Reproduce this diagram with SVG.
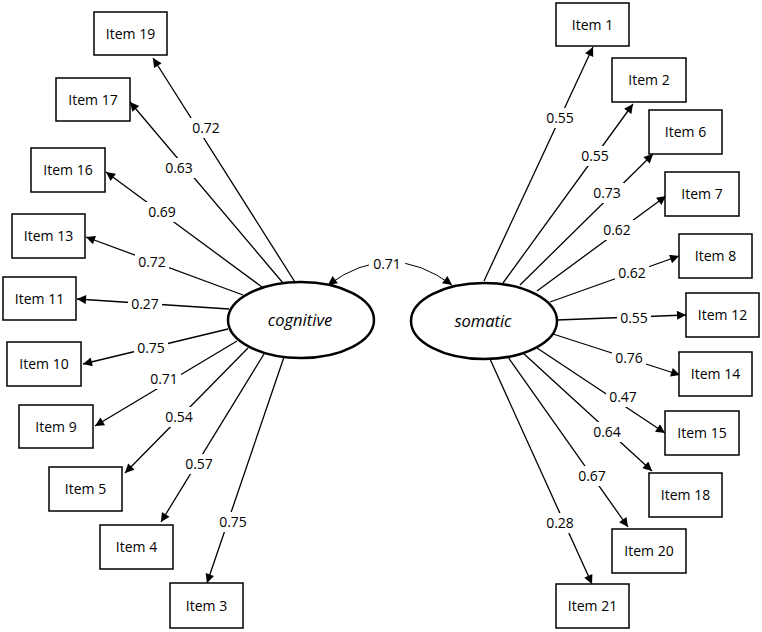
<svg xmlns="http://www.w3.org/2000/svg" width="762" height="632" viewBox="0 0 762 632">
<style>
.box{fill:#fff;stroke:#000;stroke-width:1.5}
.lat{fill:#fff;stroke:#000;stroke-width:2.5}
.t{font-family:"Open Sans","Liberation Sans",sans-serif;font-size:14px;fill:#000;text-anchor:middle}
.lt{font-family:"Open Sans","Liberation Sans",sans-serif;font-size:16.5px;font-style:italic;fill:#000;text-anchor:middle}
.c{stroke:#000;stroke-width:1.3;fill:none;marker-end:url(#ah)}
.bg{fill:#fff;stroke:none}
</style>
<defs>
<marker id="ah" viewBox="0 0 10 10" refX="10" refY="5" markerWidth="11" markerHeight="9" markerUnits="userSpaceOnUse" orient="auto-start-reverse"><path d="M0,0 L10,5 L0,10 z" fill="#000"/></marker>
</defs>
<rect width="762" height="632" fill="#fff"/>
<g id="connectors">
<line class="c" x1="300" y1="290" x2="153" y2="58"/>
<line class="c" x1="283" y1="283" x2="130" y2="102"/>
<line class="c" x1="262" y1="287" x2="106" y2="172"/>
<line class="c" x1="243" y1="295" x2="86" y2="237"/>
<line class="c" x1="229" y1="309" x2="77" y2="299"/>
<line class="c" x1="228" y1="329" x2="83" y2="364"/>
<line class="c" x1="237" y1="341" x2="95" y2="426"/>
<line class="c" x1="248" y1="348" x2="125" y2="473"/>
<line class="c" x1="264" y1="354" x2="161" y2="522"/>
<line class="c" x1="284" y1="357" x2="207" y2="583"/>
<line class="c" x1="484" y1="281" x2="593" y2="47"/>
<line class="c" x1="503" y1="283" x2="633" y2="104"/>
<line class="c" x1="520" y1="285" x2="653" y2="154"/>
<line class="c" x1="537" y1="291" x2="666" y2="196"/>
<line class="c" x1="550" y1="302" x2="679" y2="256"/>
<line class="c" x1="557" y1="320" x2="686" y2="315"/>
<line class="c" x1="553" y1="334" x2="680" y2="375"/>
<line class="c" x1="537" y1="348" x2="665" y2="433"/>
<line class="c" x1="523" y1="353" x2="652" y2="471"/>
<line class="c" x1="508" y1="357" x2="628" y2="527"/>
<line class="c" x1="490" y1="359" x2="592" y2="584"/>
<path class="c" d="M328,285 Q390,239 452,285" style="stroke-width:1;marker-start:url(#ah)"/>
</g>
<g id="labels">
<g><rect class="bg" x="189" y="118" width="34" height="20"/><text class="t" x="206" y="133">0.72</text></g>
<g><rect class="bg" x="162" y="158" width="34" height="20"/><text class="t" x="179" y="173">0.63</text></g>
<g><rect class="bg" x="145" y="202" width="34" height="20"/><text class="t" x="162" y="217">0.69</text></g>
<g><rect class="bg" x="135" y="252" width="34" height="20"/><text class="t" x="152" y="267">0.72</text></g>
<g><rect class="bg" x="128" y="294" width="34" height="20"/><text class="t" x="145" y="309">0.27</text></g>
<g><rect class="bg" x="134" y="338" width="34" height="20"/><text class="t" x="151" y="353">0.75</text></g>
<g><rect class="bg" x="147" y="369" width="34" height="20"/><text class="t" x="164" y="384">0.71</text></g>
<g><rect class="bg" x="162" y="407" width="34" height="20"/><text class="t" x="179" y="422">0.54</text></g>
<g><rect class="bg" x="182" y="454" width="34" height="20"/><text class="t" x="199" y="469">0.57</text></g>
<g><rect class="bg" x="216" y="512" width="34" height="20"/><text class="t" x="233" y="527">0.75</text></g>
<g><rect class="bg" x="543" y="108" width="34" height="20"/><text class="t" x="560" y="123">0.55</text></g>
<g><rect class="bg" x="578" y="146" width="34" height="20"/><text class="t" x="595" y="161">0.55</text></g>
<g><rect class="bg" x="590" y="183" width="34" height="20"/><text class="t" x="607" y="198">0.73</text></g>
<g><rect class="bg" x="600" y="220" width="34" height="20"/><text class="t" x="617" y="235">0.62</text></g>
<g><rect class="bg" x="615" y="263" width="34" height="20"/><text class="t" x="632" y="278">0.62</text></g>
<g><rect class="bg" x="617" y="308" width="34" height="20"/><text class="t" x="634" y="323">0.55</text></g>
<g><rect class="bg" x="612" y="348" width="34" height="20"/><text class="t" x="629" y="363">0.76</text></g>
<g><rect class="bg" x="606" y="387" width="34" height="20"/><text class="t" x="623" y="402">0.47</text></g>
<g><rect class="bg" x="590" y="422" width="34" height="20"/><text class="t" x="607" y="437">0.64</text></g>
<g><rect class="bg" x="575" y="466" width="34" height="20"/><text class="t" x="592" y="481">0.67</text></g>
<g><rect class="bg" x="543" y="513" width="34" height="20"/><text class="t" x="560" y="528">0.28</text></g>
<g><rect class="bg" x="369" y="254" width="36" height="20"/><text class="t" x="387" y="269">0.71</text></g>
</g>
<g id="cognitive"><ellipse class="lat" cx="301" cy="320" rx="73" ry="38"/><text class="lt" x="300" y="326">cognitive</text></g>
<g id="somatic"><ellipse class="lat" cx="484" cy="321" rx="73" ry="38"/><text class="lt" x="483" y="327">somatic</text></g>
<g id="item19"><rect class="box" x="94" y="12" width="73" height="43"/><text class="t" x="130.5" y="38.5">Item 19</text></g>
<g id="item17"><rect class="box" x="56" y="78" width="74" height="43"/><text class="t" x="93" y="104.5">Item 17</text></g>
<g id="item16"><rect class="box" x="31" y="148" width="74" height="44"/><text class="t" x="68" y="175">Item 16</text></g>
<g id="item13"><rect class="box" x="12" y="214" width="73" height="44"/><text class="t" x="48.5" y="241">Item 13</text></g>
<g id="item11"><rect class="box" x="3" y="277" width="73" height="43"/><text class="t" x="39.5" y="303.5">Item 11</text></g>
<g id="item10"><rect class="box" x="7" y="342" width="74" height="44"/><text class="t" x="44" y="369">Item 10</text></g>
<g id="item9"><rect class="box" x="19" y="405" width="74" height="43"/><text class="t" x="56" y="431.5">Item 9</text></g>
<g id="item5"><rect class="box" x="49" y="467" width="73" height="44"/><text class="t" x="85.5" y="494">Item 5</text></g>
<g id="item4"><rect class="box" x="100" y="525" width="73" height="44"/><text class="t" x="136.5" y="552">Item 4</text></g>
<g id="item3"><rect class="box" x="170" y="583" width="73" height="45"/><text class="t" x="206.5" y="610.5">Item 3</text></g>
<g id="item1"><rect class="box" x="556" y="3" width="73" height="43"/><text class="t" x="592.5" y="29.5">Item 1</text></g>
<g id="item2"><rect class="box" x="612" y="58" width="74" height="44"/><text class="t" x="649" y="85">Item 2</text></g>
<g id="item6"><rect class="box" x="649" y="110" width="73" height="44"/><text class="t" x="685.5" y="137">Item 6</text></g>
<g id="item7"><rect class="box" x="665" y="172" width="74" height="44"/><text class="t" x="702" y="199">Item 7</text></g>
<g id="item8"><rect class="box" x="679" y="234" width="73" height="44"/><text class="t" x="715.5" y="261">Item 8</text></g>
<g id="item12"><rect class="box" x="686" y="293" width="73" height="44"/><text class="t" x="722.5" y="320">Item 12</text></g>
<g id="item14"><rect class="box" x="679" y="352" width="73" height="44"/><text class="t" x="715.5" y="379">Item 14</text></g>
<g id="item15"><rect class="box" x="665" y="411" width="74" height="44"/><text class="t" x="702" y="438">Item 15</text></g>
<g id="item18"><rect class="box" x="649" y="473" width="73" height="44"/><text class="t" x="685.5" y="500">Item 18</text></g>
<g id="item20"><rect class="box" x="612" y="529" width="74" height="44"/><text class="t" x="649" y="556">Item 20</text></g>
<g id="item21"><rect class="box" x="556" y="584" width="73" height="44"/><text class="t" x="592.5" y="611">Item 21</text></g>
</svg>
